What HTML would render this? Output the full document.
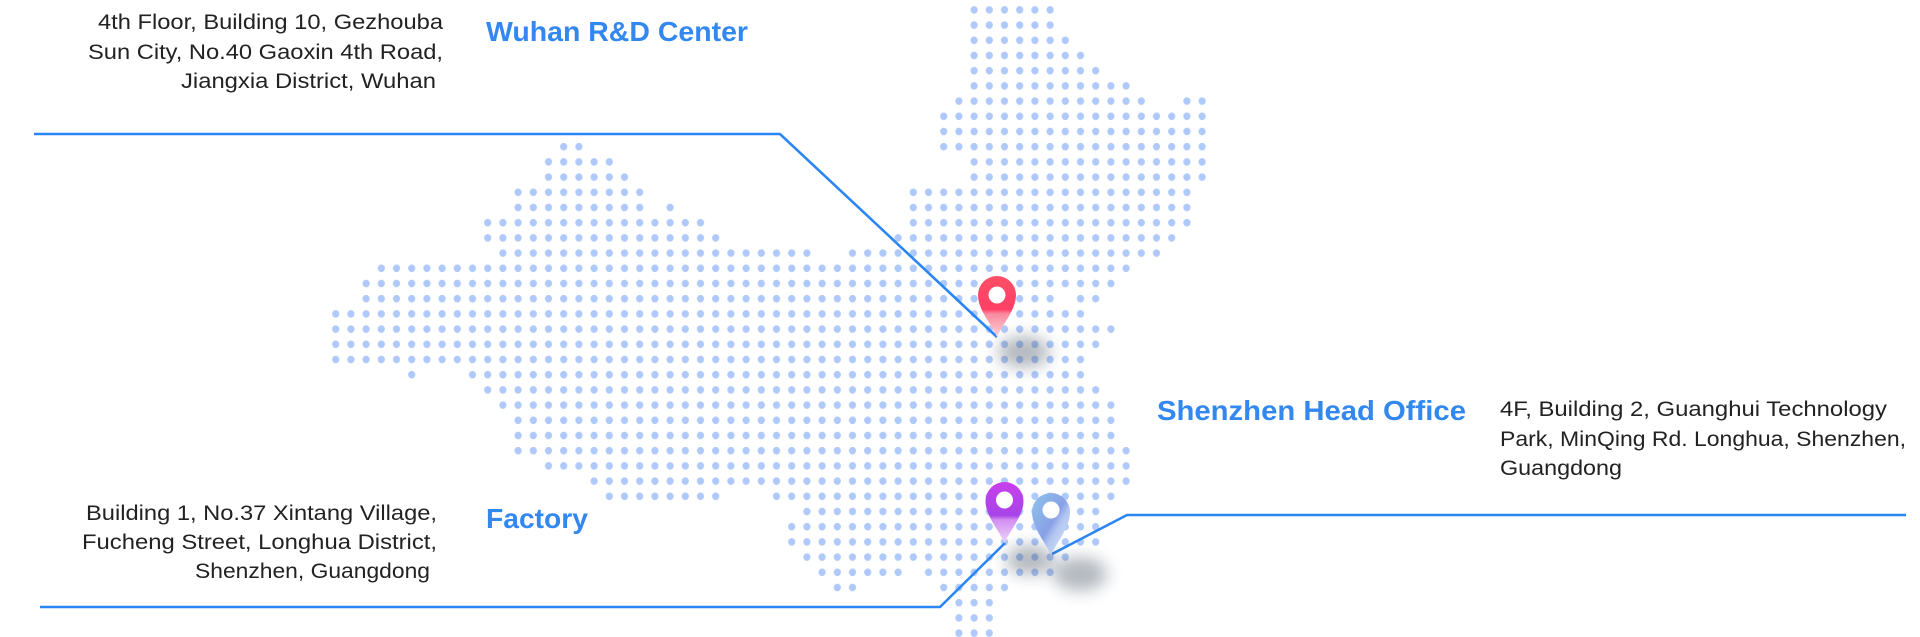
<!DOCTYPE html>
<html><head><meta charset="utf-8">
<style>
html,body{margin:0;padding:0;background:#fff;width:1920px;height:637px;overflow:hidden}
svg{display:block}
.addr{font-family:"Liberation Sans",sans-serif;font-size:21px;fill:#222}
.ttl{font-family:"Liberation Sans",sans-serif;font-size:28px;font-weight:bold;fill:#3388f0}
</style></head>
<body>
<svg width="1920" height="637" viewBox="0 0 1920 637" xmlns="http://www.w3.org/2000/svg">
<defs>
<pattern id="dots" patternUnits="userSpaceOnUse" x="328.1" y="2.3" width="15.2" height="15.2">
<ellipse cx="7.6" cy="7.6" rx="3.6" ry="3.8" fill="#afc9fa"/>
</pattern>
<linearGradient id="gR" x1="0" y1="0" x2="0" y2="1"><stop offset="0" stop-color="#ff4f66"/><stop offset="0.55" stop-color="#ff3f66"/><stop offset="0.62" stop-color="#f98a9e"/><stop offset="1" stop-color="#fbd2da"/></linearGradient>
<linearGradient id="gP" x1="0" y1="0" x2="0" y2="1"><stop offset="0" stop-color="#c840ea"/><stop offset="0.55" stop-color="#a844e8"/><stop offset="0.62" stop-color="#d28ef0"/><stop offset="1" stop-color="#eed5f8"/></linearGradient>
<linearGradient id="gB" x1="0" y1="0" x2="1" y2="1"><stop offset="0" stop-color="#8cc4ea"/><stop offset="0.5" stop-color="#8aa0e8"/><stop offset="0.62" stop-color="#b3c6f0"/><stop offset="1" stop-color="#dfe8fa"/></linearGradient>
<filter id="blur" x="-80%" y="-80%" width="260%" height="260%"><feGaussianBlur stdDeviation="8"/></filter>
</defs>
<g fill="url(#dots)">
<rect x="966.5" y="2.3" width="91.2" height="15.2"/>
<rect x="966.5" y="17.5" width="91.2" height="15.2"/>
<rect x="966.5" y="32.7" width="106.4" height="15.2"/>
<rect x="966.5" y="47.9" width="121.6" height="15.2"/>
<rect x="966.5" y="63.1" width="136.8" height="15.2"/>
<rect x="966.5" y="78.3" width="167.2" height="15.2"/>
<rect x="951.3" y="93.5" width="197.6" height="15.2"/><rect x="1179.3" y="93.5" width="30.4" height="15.2"/>
<rect x="936.1" y="108.7" width="273.6" height="15.2"/>
<rect x="936.1" y="123.9" width="273.6" height="15.2"/>
<rect x="556.1" y="139.1" width="30.4" height="15.2"/><rect x="936.1" y="139.1" width="273.6" height="15.2"/>
<rect x="540.9" y="154.3" width="76" height="15.2"/><rect x="966.5" y="154.3" width="243.2" height="15.2"/>
<rect x="540.9" y="169.5" width="91.2" height="15.2"/><rect x="966.5" y="169.5" width="243.2" height="15.2"/>
<rect x="510.5" y="184.7" width="136.8" height="15.2"/><rect x="905.7" y="184.7" width="288.8" height="15.2"/>
<rect x="510.5" y="199.9" width="136.8" height="15.2"/><rect x="662.5" y="199.9" width="15.2" height="15.2"/><rect x="905.7" y="199.9" width="288.8" height="15.2"/>
<rect x="480.1" y="215.1" width="228" height="15.2"/><rect x="905.7" y="215.1" width="288.8" height="15.2"/>
<rect x="480.1" y="230.3" width="243.2" height="15.2"/><rect x="890.5" y="230.3" width="288.8" height="15.2"/>
<rect x="495.3" y="245.5" width="319.2" height="15.2"/><rect x="844.9" y="245.5" width="319.2" height="15.2"/>
<rect x="373.7" y="260.7" width="760" height="15.2"/>
<rect x="358.5" y="275.9" width="760" height="15.2"/>
<rect x="358.5" y="291.1" width="699.2" height="15.2"/><rect x="1072.9" y="291.1" width="30.4" height="15.2"/>
<rect x="328.1" y="306.3" width="760" height="15.2"/>
<rect x="328.1" y="321.5" width="790.4" height="15.2"/>
<rect x="328.1" y="336.7" width="775.2" height="15.2"/>
<rect x="328.1" y="351.9" width="760" height="15.2"/>
<rect x="404.1" y="367.1" width="15.2" height="15.2"/><rect x="464.9" y="367.1" width="623.2" height="15.2"/>
<rect x="480.1" y="382.3" width="623.2" height="15.2"/>
<rect x="495.3" y="397.5" width="623.2" height="15.2"/>
<rect x="510.5" y="412.7" width="608" height="15.2"/>
<rect x="510.5" y="427.9" width="608" height="15.2"/>
<rect x="510.5" y="443.1" width="623.2" height="15.2"/>
<rect x="540.9" y="458.3" width="592.8" height="15.2"/>
<rect x="586.5" y="473.5" width="547.2" height="15.2"/>
<rect x="601.7" y="488.7" width="121.6" height="15.2"/><rect x="768.9" y="488.7" width="349.6" height="15.2"/>
<rect x="799.3" y="503.9" width="304" height="15.2"/>
<rect x="784.1" y="519.1" width="319.2" height="15.2"/>
<rect x="784.1" y="534.3" width="319.2" height="15.2"/>
<rect x="799.3" y="549.5" width="273.6" height="15.2"/>
<rect x="814.5" y="564.7" width="91.2" height="15.2"/><rect x="920.9" y="564.7" width="136.8" height="15.2"/>
<rect x="829.7" y="579.9" width="30.4" height="15.2"/><rect x="936.1" y="579.9" width="76" height="15.2"/>
<rect x="951.3" y="595.1" width="45.6" height="15.2"/>
<rect x="951.3" y="610.3" width="45.6" height="15.2"/>
<rect x="951.3" y="625.5" width="45.6" height="15.2"/>
</g>

<!-- connector lines -->
<g fill="none" stroke="#2b86f3" stroke-width="2.6" stroke-linejoin="miter">
<polyline points="34,134 780,134 997,337"/>
<polyline points="40,607 940,607 1005,543"/>
<polyline points="1052,554 1127,515 1906,515"/>
</g>

<!-- shadows -->
<g fill="#3a4a5a" filter="url(#blur)" opacity="0.38">
<ellipse cx="1024" cy="352" rx="26" ry="16"/>
<ellipse cx="1030" cy="560" rx="24" ry="15"/>
<ellipse cx="1080" cy="574" rx="27" ry="17"/>
</g>

<!-- pins -->
<path d="M997 337 C992 325 978 310 978 295 A19 19 0 1 1 1016 295 C1016 310 1002 325 997 337 Z" fill="url(#gR)"/>
<circle cx="997" cy="295" r="8.5" fill="#fff"/>
<path d="M1004.5 543 C999.5 531 985.5 516 985.5 501 A19 19 0 1 1 1023.5 501 C1023.5 516 1009.5 531 1004.5 543 Z" fill="url(#gP)"/>
<circle cx="1004.5" cy="500" r="8.5" fill="#fff"/>
<path d="M1051 555 C1046 543 1032 528 1032 512 A19 19 0 1 1 1070 512 C1070 528 1056 543 1051 555 Z" fill="url(#gB)"/>
<circle cx="1051" cy="510" r="8.5" fill="#fff"/>

<!-- texts -->
<text class="addr" x="98" y="29" textLength="345" lengthAdjust="spacingAndGlyphs">4th Floor, Building 10, Gezhouba</text>
<text class="addr" x="88" y="59" textLength="355" lengthAdjust="spacingAndGlyphs">Sun City, No.40 Gaoxin 4th Road,</text>
<text class="addr" x="181" y="88" textLength="255" lengthAdjust="spacingAndGlyphs">Jiangxia District, Wuhan</text>
<text class="ttl" x="486" y="41" textLength="262" lengthAdjust="spacingAndGlyphs">Wuhan R&amp;D Center</text>

<text class="ttl" x="1157" y="420" textLength="309" lengthAdjust="spacingAndGlyphs">Shenzhen Head Office</text>
<text class="addr" x="1500" y="416" textLength="387" lengthAdjust="spacingAndGlyphs">4F, Building 2, Guanghui Technology</text>
<text class="addr" x="1500" y="446" textLength="406" lengthAdjust="spacingAndGlyphs">Park, MinQing Rd. Longhua, Shenzhen,</text>
<text class="addr" x="1500" y="475" textLength="122" lengthAdjust="spacingAndGlyphs">Guangdong</text>

<text class="ttl" x="486" y="528" textLength="102" lengthAdjust="spacingAndGlyphs">Factory</text>
<text class="addr" x="86" y="520" textLength="351" lengthAdjust="spacingAndGlyphs">Building 1, No.37 Xintang Village,</text>
<text class="addr" x="82" y="549" textLength="355" lengthAdjust="spacingAndGlyphs">Fucheng Street, Longhua District,</text>
<text class="addr" x="195" y="578" textLength="235" lengthAdjust="spacingAndGlyphs">Shenzhen, Guangdong</text>
</svg>
</body></html>
